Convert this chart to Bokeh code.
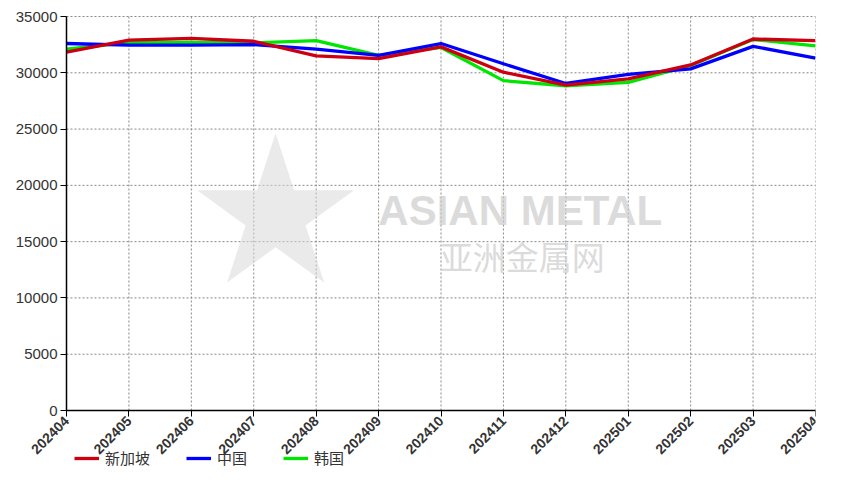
from bokeh.plotting import figure
from bokeh.models import FixedTicker, Legend, LegendItem, Range1d, Label
from bokeh.embed import file_html
from bokeh.resources import INLINE
import math

months = ["202404", "202405", "202406", "202407", "202408", "202409", "202410",
          "202411", "202412", "202501", "202502", "202503", "202504"]
singapore = [31830, 32900, 33050, 32800, 31500, 31250, 32300, 30050, 28900, 29450, 30700, 33000, 32850]
china = [32600, 32450, 32450, 32500, 32100, 31550, 32600, 30800, 29050, 29850, 30350, 32350, 31300]
korea = [32100, 32700, 32700, 32650, 32850, 31550, 32250, 29300, 28850, 29150, 30650, 32950, 32400]
y_ticks = [0, 5000, 10000, 15000, 20000, 25000, 30000, 35000]
y_max = 35000

xs = list(range(len(months)))
n = len(months) - 1

# pixel layout of the value area: x 66..815, y 16 (35000) .. 410 (0)
W, H = 850, 490
left_px, right_px, top_px, zero_px = 66, 815, 16, 410
frame_left, frame_top, frame_bottom = 4, 4, H - 8
px_x = (right_px - left_px) / n
px_y = (zero_px - top_px) / y_max
x_lo = -(left_px - frame_left) / px_x
y_hi = y_max + (top_px - frame_top) / px_y
y_lo = -(frame_bottom - zero_px) / px_y

p = figure(width=W, height=H, output_backend="svg", toolbar_location=None,
           x_range=Range1d(x_lo, n), y_range=Range1d(y_lo, y_hi),
           min_border_left=frame_left, min_border_top=frame_top,
           min_border_right=W - right_px, min_border_bottom=H - frame_bottom)
p.outline_line_color = None
p.background_fill_color = "white"

# dotted grid lines, only across the value area
p.xgrid.visible = False
p.ygrid.visible = False
p.segment(x0=xs, y0=[0] * len(xs), x1=xs, y1=[y_max] * len(xs),
          line_color="#888888", line_dash="2 2", line_width=1)
p.segment(x0=[0] * len(y_ticks), y0=y_ticks, x1=[n] * len(y_ticks), y1=y_ticks,
          line_color="#888888", line_dash="2 2", line_width=1)

# watermark
p.scatter([3.35], [17300], marker="star", size=165, fill_color="#d8d8d8",
          line_color=None, fill_alpha=0.55)
p.add_layout(Label(x=7.27, y=17800, text="ASIAN METAL", text_font="Liberation Sans",
                   text_font_size="42px", text_font_style="bold", text_color="#cccccc",
                   text_alpha=0.7, text_align="center", text_baseline="middle"))
p.add_layout(Label(x=7.3, y=13700, text="亚洲金属网", text_font="Noto Sans CJK SC",
                   text_font_size="33px", text_color="#cccccc", text_alpha=0.7,
                   text_align="center", text_baseline="middle"))

r3 = p.line(xs, korea, line_color="#00E600", line_width=3.3)
r2 = p.line(xs, china, line_color="#0000FF", line_width=3.3)
r1 = p.line(xs, singapore, line_color="#CC0011", line_width=3.3)

p.xaxis.ticker = FixedTicker(ticks=xs)
p.xaxis.major_label_overrides = {i: m for i, m in enumerate(months)}
p.xaxis.major_label_orientation = math.pi / 4
p.xaxis.fixed_location = 0
p.xaxis.bounds = (0, n)
p.yaxis.ticker = FixedTicker(ticks=y_ticks)
p.yaxis.fixed_location = 0
p.yaxis.bounds = (0, y_max)

for ax in (p.xaxis[0], p.yaxis[0]):
    ax.axis_line_color = "black"
    ax.axis_line_width = 1.5
    ax.major_tick_line_color = "black"
    ax.major_tick_out = 6
    ax.major_tick_in = 0
    ax.minor_tick_line_color = None
    ax.major_label_text_font = "Liberation Sans"
    ax.major_label_text_color = "#333333"
p.xaxis.major_label_text_font_size = "14px"
p.xaxis.major_label_text_font_style = "bold"
p.xaxis.major_label_standoff = 2
p.yaxis.major_label_text_font_size = "15px"
p.yaxis.major_label_standoff = 3

legend = Legend(items=[LegendItem(label="新加坡", renderers=[r1]),
                       LegendItem(label="中国", renderers=[r2]),
                       LegendItem(label="韩国", renderers=[r3])],
                orientation="horizontal", location=(left_px - frame_left + 8, 14),
                label_text_font="Noto Sans CJK SC", label_text_font_size="15px",
                label_text_color="#333333", glyph_width=25, label_standoff=6,
                spacing=36, padding=4, margin=0,
                border_line_color=None, background_fill_alpha=0)
p.add_layout(legend, "center")

open("out.html", "w").write(file_html(p, INLINE))
